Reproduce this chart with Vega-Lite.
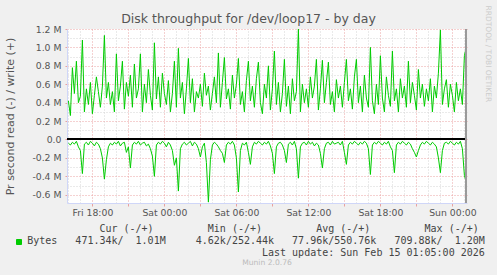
{
  "$schema": "https://vega.github.io/schema/vega-lite/v6.json",
  "width": 400,
  "height": 174,
  "autosize": {"type": "none"},
  "padding": {"left": 67, "top": 29, "right": 30, "bottom": 72},
  "background": "#f0f0f0",
  "config": {
    "view": {"stroke": null, "fill": "#ffffff"},
    "font": "DejaVu Sans"
  },
  "title": {
    "text": "Munin 2.0.76\u00a0\u00a0\u00a0\u00a0\u00a0\u00a0\u00a0\u00a0\u00a0\u00a0\u00a0\u00a0\u00a0\u00a0\u00a0\u00a0",
    "orient": "bottom",
    "anchor": "middle",
    "offset": 2,
    "fontSize": 7.6,
    "fontWeight": "normal",
    "color": "#bbbbbb"
  },
  "data": {
    "values": [
      {"t":"2026-02-13T16:00","w":0.42,"r":-0.04},{"t":"2026-02-13T16:10","w":0.26,"r":-0.06},{"t":"2026-02-13T16:20","w":0.78,"r":-0.03},{"t":"2026-02-13T16:30","w":0.50,"r":-0.05},{"t":"2026-02-13T16:40","w":0.85,"r":-0.02},{"t":"2026-02-13T16:50","w":0.40,"r":-0.08},
      {"t":"2026-02-13T17:00","w":0.47,"r":-0.12},{"t":"2026-02-13T17:10","w":1.08,"r":-0.37},{"t":"2026-02-13T17:20","w":0.30,"r":-0.05},{"t":"2026-02-13T17:30","w":0.55,"r":-0.03},{"t":"2026-02-13T17:40","w":0.38,"r":-0.06},{"t":"2026-02-13T17:50","w":0.62,"r":-0.02},
      {"t":"2026-02-13T18:00","w":0.28,"r":-0.04},{"t":"2026-02-13T18:10","w":0.48,"r":-0.07},{"t":"2026-02-13T18:20","w":0.68,"r":-0.03},{"t":"2026-02-13T18:30","w":0.52,"r":-0.05},{"t":"2026-02-13T18:40","w":0.35,"r":-0.10},{"t":"2026-02-13T18:50","w":0.58,"r":-0.20},
      {"t":"2026-02-13T19:00","w":1.13,"r":-0.43},{"t":"2026-02-13T19:10","w":0.45,"r":-0.22},{"t":"2026-02-13T19:20","w":0.62,"r":-0.08},{"t":"2026-02-13T19:30","w":0.38,"r":-0.04},{"t":"2026-02-13T19:40","w":0.52,"r":-0.06},{"t":"2026-02-13T19:50","w":0.30,"r":-0.03},
      {"t":"2026-02-13T20:00","w":0.93,"r":-0.05},{"t":"2026-02-13T20:10","w":0.42,"r":-0.02},{"t":"2026-02-13T20:20","w":0.58,"r":-0.07},{"t":"2026-02-13T20:30","w":0.85,"r":-0.04},{"t":"2026-02-13T20:40","w":0.33,"r":-0.03},{"t":"2026-02-13T20:50","w":0.62,"r":-0.14},
      {"t":"2026-02-13T21:00","w":0.47,"r":-0.08},{"t":"2026-02-13T21:10","w":0.70,"r":-0.31},{"t":"2026-02-13T21:20","w":0.35,"r":-0.06},{"t":"2026-02-13T21:30","w":0.82,"r":-0.03},{"t":"2026-02-13T21:40","w":0.45,"r":-0.05},{"t":"2026-02-13T21:50","w":0.55,"r":-0.02},
      {"t":"2026-02-13T22:00","w":0.93,"r":-0.06},{"t":"2026-02-13T22:10","w":0.30,"r":-0.04},{"t":"2026-02-13T22:20","w":0.60,"r":-0.03},{"t":"2026-02-13T22:30","w":0.40,"r":-0.07},{"t":"2026-02-13T22:40","w":0.76,"r":-0.05},{"t":"2026-02-13T22:50","w":0.48,"r":-0.10},
      {"t":"2026-02-13T23:00","w":0.32,"r":-0.18},{"t":"2026-02-13T23:10","w":1.05,"r":-0.40},{"t":"2026-02-13T23:20","w":0.44,"r":-0.06},{"t":"2026-02-13T23:30","w":0.68,"r":-0.03},{"t":"2026-02-13T23:40","w":0.35,"r":-0.05},{"t":"2026-02-13T23:50","w":0.72,"r":-0.02},
      {"t":"2026-02-14T00:00","w":0.50,"r":-0.04},{"t":"2026-02-14T00:10","w":0.38,"r":-0.08},{"t":"2026-02-14T00:20","w":0.64,"r":-0.03},{"t":"2026-02-14T00:30","w":0.30,"r":-0.06},{"t":"2026-02-14T00:40","w":0.50,"r":-0.12},{"t":"2026-02-14T00:50","w":0.85,"r":-0.28},
      {"t":"2026-02-14T01:00","w":0.35,"r":-0.20},{"t":"2026-02-14T01:10","w":0.99,"r":-0.56},{"t":"2026-02-14T01:20","w":0.45,"r":-0.10},{"t":"2026-02-14T01:30","w":0.62,"r":-0.05},{"t":"2026-02-14T01:40","w":0.28,"r":-0.03},{"t":"2026-02-14T01:50","w":0.55,"r":-0.06},
      {"t":"2026-02-14T02:00","w":0.88,"r":-0.04},{"t":"2026-02-14T02:10","w":0.40,"r":-0.02},{"t":"2026-02-14T02:20","w":0.66,"r":-0.07},{"t":"2026-02-14T02:30","w":0.30,"r":-0.03},{"t":"2026-02-14T02:40","w":0.52,"r":-0.05},{"t":"2026-02-14T02:50","w":0.45,"r":-0.10},
      {"t":"2026-02-14T03:00","w":0.60,"r":-0.19},{"t":"2026-02-14T03:10","w":0.36,"r":-0.08},{"t":"2026-02-14T03:20","w":0.72,"r":-0.04},{"t":"2026-02-14T03:30","w":0.48,"r":-0.25},{"t":"2026-02-14T03:40","w":0.58,"r":-0.68},{"t":"2026-02-14T03:50","w":0.32,"r":-0.22},
      {"t":"2026-02-14T04:00","w":0.50,"r":-0.06},{"t":"2026-02-14T04:10","w":0.68,"r":-0.03},{"t":"2026-02-14T04:20","w":0.40,"r":-0.05},{"t":"2026-02-14T04:30","w":0.94,"r":-0.08},{"t":"2026-02-14T04:40","w":0.35,"r":-0.12},{"t":"2026-02-14T04:50","w":0.62,"r":-0.15},
      {"t":"2026-02-14T05:00","w":0.89,"r":-0.25},{"t":"2026-02-14T05:10","w":0.44,"r":-0.06},{"t":"2026-02-14T05:20","w":0.55,"r":-0.03},{"t":"2026-02-14T05:30","w":0.33,"r":-0.05},{"t":"2026-02-14T05:40","w":0.70,"r":-0.02},{"t":"2026-02-14T05:50","w":0.45,"r":-0.06},
      {"t":"2026-02-14T06:00","w":0.60,"r":-0.20},{"t":"2026-02-14T06:10","w":0.88,"r":-0.57},{"t":"2026-02-14T06:20","w":0.38,"r":-0.12},{"t":"2026-02-14T06:30","w":0.52,"r":-0.04},{"t":"2026-02-14T06:40","w":0.30,"r":-0.06},{"t":"2026-02-14T06:50","w":0.64,"r":-0.03},
      {"t":"2026-02-14T07:00","w":0.85,"r":-0.14},{"t":"2026-02-14T07:10","w":0.42,"r":-0.27},{"t":"2026-02-14T07:20","w":0.58,"r":-0.08},{"t":"2026-02-14T07:30","w":0.35,"r":-0.03},{"t":"2026-02-14T07:40","w":0.66,"r":-0.05},{"t":"2026-02-14T07:50","w":0.84,"r":-0.02},
      {"t":"2026-02-14T08:00","w":0.40,"r":-0.04},{"t":"2026-02-14T08:10","w":0.28,"r":-0.06},{"t":"2026-02-14T08:20","w":0.60,"r":-0.03},{"t":"2026-02-14T08:30","w":0.45,"r":-0.05},{"t":"2026-02-14T08:40","w":0.80,"r":-0.02},{"t":"2026-02-14T08:50","w":0.32,"r":-0.07},
      {"t":"2026-02-14T09:00","w":0.55,"r":-0.15},{"t":"2026-02-14T09:10","w":0.96,"r":-0.37},{"t":"2026-02-14T09:20","w":0.38,"r":-0.08},{"t":"2026-02-14T09:30","w":0.62,"r":-0.04},{"t":"2026-02-14T09:40","w":0.30,"r":-0.03},{"t":"2026-02-14T09:50","w":0.50,"r":-0.06},
      {"t":"2026-02-14T10:00","w":0.87,"r":-0.12},{"t":"2026-02-14T10:10","w":0.36,"r":-0.25},{"t":"2026-02-14T10:20","w":0.58,"r":-0.05},{"t":"2026-02-14T10:30","w":0.28,"r":-0.03},{"t":"2026-02-14T10:40","w":0.66,"r":-0.06},{"t":"2026-02-14T10:50","w":0.42,"r":-0.02},
      {"t":"2026-02-14T11:00","w":0.52,"r":-0.10},{"t":"2026-02-14T11:10","w":1.20,"r":-0.42},{"t":"2026-02-14T11:20","w":0.30,"r":-0.08},{"t":"2026-02-14T11:30","w":0.60,"r":-0.04},{"t":"2026-02-14T11:40","w":0.40,"r":-0.03},{"t":"2026-02-14T11:50","w":0.55,"r":-0.06},
      {"t":"2026-02-14T12:00","w":0.35,"r":-0.02},{"t":"2026-02-14T12:10","w":0.68,"r":-0.05},{"t":"2026-02-14T12:20","w":0.45,"r":-0.03},{"t":"2026-02-14T12:30","w":0.58,"r":-0.07},{"t":"2026-02-14T12:40","w":0.87,"r":-0.04},{"t":"2026-02-14T12:50","w":0.32,"r":-0.06},
      {"t":"2026-02-14T13:00","w":0.55,"r":-0.15},{"t":"2026-02-14T13:10","w":0.86,"r":-0.31},{"t":"2026-02-14T13:20","w":0.40,"r":-0.10},{"t":"2026-02-14T13:30","w":0.62,"r":-0.04},{"t":"2026-02-14T13:40","w":0.84,"r":-0.03},{"t":"2026-02-14T13:50","w":0.38,"r":-0.06},
      {"t":"2026-02-14T14:00","w":0.52,"r":-0.02},{"t":"2026-02-14T14:10","w":0.30,"r":-0.05},{"t":"2026-02-14T14:20","w":0.65,"r":-0.04},{"t":"2026-02-14T14:30","w":0.45,"r":-0.03},{"t":"2026-02-14T14:40","w":0.58,"r":-0.06},{"t":"2026-02-14T14:50","w":0.35,"r":-0.02},
      {"t":"2026-02-14T15:00","w":0.62,"r":-0.14},{"t":"2026-02-14T15:10","w":0.87,"r":-0.27},{"t":"2026-02-14T15:20","w":0.42,"r":-0.06},{"t":"2026-02-14T15:30","w":0.55,"r":-0.03},{"t":"2026-02-14T15:40","w":0.33,"r":-0.05},{"t":"2026-02-14T15:50","w":0.68,"r":-0.02},
      {"t":"2026-02-14T16:00","w":0.87,"r":-0.04},{"t":"2026-02-14T16:10","w":0.40,"r":-0.06},{"t":"2026-02-14T16:20","w":0.58,"r":-0.03},{"t":"2026-02-14T16:30","w":0.30,"r":-0.05},{"t":"2026-02-14T16:40","w":0.70,"r":-0.02},{"t":"2026-02-14T16:50","w":0.45,"r":-0.04},
      {"t":"2026-02-14T17:00","w":0.35,"r":-0.10},{"t":"2026-02-14T17:10","w":1.00,"r":-0.38},{"t":"2026-02-14T17:20","w":0.42,"r":-0.06},{"t":"2026-02-14T17:30","w":0.28,"r":-0.03},{"t":"2026-02-14T17:40","w":0.60,"r":-0.05},{"t":"2026-02-14T17:50","w":0.38,"r":-0.02},
      {"t":"2026-02-14T18:00","w":0.91,"r":-0.04},{"t":"2026-02-14T18:10","w":0.45,"r":-0.06},{"t":"2026-02-14T18:20","w":0.30,"r":-0.03},{"t":"2026-02-14T18:30","w":0.68,"r":-0.05},{"t":"2026-02-14T18:40","w":0.48,"r":-0.02},{"t":"2026-02-14T18:50","w":0.36,"r":-0.08},
      {"t":"2026-02-14T19:00","w":0.96,"r":-0.12},{"t":"2026-02-14T19:10","w":0.42,"r":-0.36},{"t":"2026-02-14T19:20","w":0.55,"r":-0.06},{"t":"2026-02-14T19:30","w":0.30,"r":-0.03},{"t":"2026-02-14T19:40","w":0.66,"r":-0.05},{"t":"2026-02-14T19:50","w":0.45,"r":-0.02},
      {"t":"2026-02-14T20:00","w":0.58,"r":-0.04},{"t":"2026-02-14T20:10","w":0.35,"r":-0.06},{"t":"2026-02-14T20:20","w":0.85,"r":-0.03},{"t":"2026-02-14T20:30","w":0.40,"r":-0.05},{"t":"2026-02-14T20:40","w":0.62,"r":-0.10},{"t":"2026-02-14T20:50","w":0.48,"r":-0.14},
      {"t":"2026-02-14T21:00","w":0.32,"r":-0.19},{"t":"2026-02-14T21:10","w":0.76,"r":-0.12},{"t":"2026-02-14T21:20","w":0.45,"r":-0.06},{"t":"2026-02-14T21:30","w":0.60,"r":-0.03},{"t":"2026-02-14T21:40","w":0.36,"r":-0.05},{"t":"2026-02-14T21:50","w":0.55,"r":-0.02},
      {"t":"2026-02-14T22:00","w":0.42,"r":-0.04},{"t":"2026-02-14T22:10","w":0.66,"r":-0.06},{"t":"2026-02-14T22:20","w":0.30,"r":-0.03},{"t":"2026-02-14T22:30","w":0.58,"r":-0.05},{"t":"2026-02-14T22:40","w":0.45,"r":-0.08},{"t":"2026-02-14T22:50","w":0.72,"r":-0.20},
      {"t":"2026-02-14T23:00","w":1.19,"r":-0.36},{"t":"2026-02-14T23:10","w":0.38,"r":-0.12},{"t":"2026-02-14T23:20","w":0.55,"r":-0.04},{"t":"2026-02-14T23:30","w":0.65,"r":-0.03},{"t":"2026-02-14T23:40","w":0.35,"r":-0.05},{"t":"2026-02-14T23:50","w":0.60,"r":-0.02},
      {"t":"2026-02-15T00:00","w":0.48,"r":-0.04},{"t":"2026-02-15T00:10","w":0.30,"r":-0.06},{"t":"2026-02-15T00:20","w":0.62,"r":-0.03},{"t":"2026-02-15T00:30","w":0.42,"r":-0.05},{"t":"2026-02-15T00:40","w":0.55,"r":-0.02},{"t":"2026-02-15T00:50","w":0.38,"r":-0.10},
      {"t":"2026-02-15T01:00","w":0.91,"r":-0.39},{"t":"2026-02-15T01:10","w":1.01,"r":-0.47}
    ]
  },
  "resolve": {"axis": {"x": "independent", "y": "independent"}},
  "layer": [
    {
      "mark": {"type": "line", "strokeWidth": 1},
      "encoding": {
        "x": {
          "field": "t", "type": "temporal",
          "scale": {"domain": [{"year": 2026, "month": 2, "date": 13, "hours": 15, "minutes": 53}, {"year": 2026, "month": 2, "date": 15, "hours": 1, "minutes": 13}]},
          "axis": {
            "orient": "bottom",
            "values": [
              {"year": 2026, "month": 2, "date": 13, "hours": 18},
              {"year": 2026, "month": 2, "date": 13, "hours": 21},
              {"year": 2026, "month": 2, "date": 14, "hours": 0},
              {"year": 2026, "month": 2, "date": 14, "hours": 3},
              {"year": 2026, "month": 2, "date": 14, "hours": 6},
              {"year": 2026, "month": 2, "date": 14, "hours": 9},
              {"year": 2026, "month": 2, "date": 14, "hours": 12},
              {"year": 2026, "month": 2, "date": 14, "hours": 15},
              {"year": 2026, "month": 2, "date": 14, "hours": 18},
              {"year": 2026, "month": 2, "date": 14, "hours": 21},
              {"year": 2026, "month": 2, "date": 15, "hours": 0}
            ],
            "labelExpr": "hours(datum.value) % 6 == 0 ? timeFormat(datum.value, '%a %H:%M') : ''",
            "labelOverlap": false,
            "labelFontSize": 9.3,
            "labelColor": "#555555",
            "tickSize": 3,
            "tickColor": "#e9a0a0",
            "domainColor": "#cfd6f8",
            "grid": true,
            "gridColor": "#eba3a3",
            "gridDash": [1, 2],
            "title": [
              "\u200b\u00a0\u00a0\u00a0\u00a0\u00a0\u00a0\u00a0\u00a0\u00a0\u00a0\u00a0\u00a0Cur (-/+)\u00a0\u00a0\u00a0\u00a0\u00a0\u00a0\u00a0\u00a0\u00a0Min (-/+)\u00a0\u00a0\u00a0\u00a0\u00a0\u00a0\u00a0\u00a0\u00a0Avg (-/+)\u00a0\u00a0\u00a0\u00a0\u00a0\u00a0\u00a0\u00a0\u00a0Max (-/+)",
              "Bytes\u00a0\u00a0\u00a0471.34k/\u00a0\u00a01.01M\u00a0\u00a0\u00a0\u00a0\u00a04.62k/252.44k\u00a0\u00a0\u00a077.96k/550.76k\u00a0\u00a0\u00a0709.88k/\u00a0\u00a01.20M",
              "\u200b\u00a0\u00a0\u00a0\u00a0\u00a0\u00a0\u00a0\u00a0\u00a0\u00a0\u00a0\u00a0\u00a0\u00a0\u00a0\u00a0\u00a0\u00a0\u00a0\u00a0\u00a0\u00a0\u00a0\u00a0\u00a0\u00a0\u00a0\u00a0\u00a0\u00a0\u00a0\u00a0\u00a0\u00a0\u00a0\u00a0\u00a0\u00a0\u00a0Last update: Sun Feb 15 01:05:00 2026"
            ],
            "titleFont": "DejaVu Sans Mono",
            "titleFontSize": 10,
            "titleFontWeight": "normal",
            "titleColor": "#444444",
            "titleAlign": "left",
            "titleBaseline": "alphabetic",
            "titleLineHeight": 12,
            "titleX": -40.3,
            "titleY": 28
          }
        },
        "y": {
          "field": "w", "type": "quantitative",
          "scale": {"domain": [-0.6896, 1.2], "nice": false, "zero": false},
          "axis": {
            "orient": "left",
            "values": [-0.6, -0.4, -0.2, 0, 0.2, 0.4, 0.6, 0.8, 1.0, 1.2],
            "labelExpr": "abs(datum.value) < 0.001 ? '0.0' : (datum.value < 0 ? '-' : '') + format(abs(datum.value), '.1f') + ' M'",
            "labelOverlap": false,
            "labelFontSize": 9.3,
            "labelColor": "#555555",
            "labelPadding": 4,
            "tickSize": 2,
            "tickColor": "#e9a0a0",
            "domainColor": "#cfd6f8",
            "grid": true,
            "gridColor": "#eba3a3",
            "gridDash": [1, 2],
            "title": "Pr second read (-) / write (+)",
            "titleFontSize": 11,
            "titleFontWeight": "normal",
            "titleColor": "#555555",
            "titleAngle": 270,
            "titleAlign": "center",
            "titleBaseline": "middle",
            "titleX": -57,
            "titleY": 87
          }
        },
        "color": {
          "datum": "Bytes",
          "scale": {"domain": ["Bytes"], "range": ["#00cc00"]},
          "legend": {
            "orient": "none",
            "legendX": -53,
            "legendY": 208,
            "title": null,
            "padding": 0,
            "symbolType": "square",
            "symbolSize": 25,
            "symbolFillColor": "#00cc00",
            "symbolStrokeColor": "#00cc00",
            "symbolStrokeWidth": 1,
            "labelExpr": "''"
          }
        }
      }
    },
    {
      "mark": {"type": "line", "strokeWidth": 1},
      "encoding": {
        "x": {
          "field": "t", "type": "temporal",
          "axis": {
            "orient": "top",
            "values": [
              {"year": 2026, "month": 2, "date": 13, "hours": 16},
              {"year": 2026, "month": 2, "date": 13, "hours": 17},
              {"year": 2026, "month": 2, "date": 13, "hours": 19},
              {"year": 2026, "month": 2, "date": 13, "hours": 20},
              {"year": 2026, "month": 2, "date": 13, "hours": 22},
              {"year": 2026, "month": 2, "date": 13, "hours": 23},
              {"year": 2026, "month": 2, "date": 14, "hours": 1},
              {"year": 2026, "month": 2, "date": 14, "hours": 2},
              {"year": 2026, "month": 2, "date": 14, "hours": 4},
              {"year": 2026, "month": 2, "date": 14, "hours": 5},
              {"year": 2026, "month": 2, "date": 14, "hours": 7},
              {"year": 2026, "month": 2, "date": 14, "hours": 8},
              {"year": 2026, "month": 2, "date": 14, "hours": 10},
              {"year": 2026, "month": 2, "date": 14, "hours": 11},
              {"year": 2026, "month": 2, "date": 14, "hours": 13},
              {"year": 2026, "month": 2, "date": 14, "hours": 14},
              {"year": 2026, "month": 2, "date": 14, "hours": 16},
              {"year": 2026, "month": 2, "date": 14, "hours": 17},
              {"year": 2026, "month": 2, "date": 14, "hours": 19},
              {"year": 2026, "month": 2, "date": 14, "hours": 20},
              {"year": 2026, "month": 2, "date": 14, "hours": 22},
              {"year": 2026, "month": 2, "date": 14, "hours": 23},
              {"year": 2026, "month": 2, "date": 15, "hours": 1}
            ],
            "domain": false, "ticks": false, "labels": false,
            "grid": true,
            "gridColor": "#d4d4d4",
            "gridDash": [1, 2],
            "title": "Disk throughput for /dev/loop17 - by day",
            "titleFontSize": 12.5,
            "titleFontWeight": "normal",
            "titleColor": "#555555",
            "titleAlign": "center",
            "titleBaseline": "alphabetic",
            "titleX": 181,
            "titleY": -7
          }
        },
        "y": {
          "field": "r", "type": "quantitative",
          "axis": {
            "orient": "right",
            "values": [-0.5, -0.3, -0.1, 0.1, 0.3, 0.5, 0.7, 0.9, 1.1],
            "domain": false, "ticks": false, "labels": false,
            "grid": true,
            "gridColor": "#d4d4d4",
            "gridDash": [1, 2],
            "title": "RRDTOOL / TOBI OETIKER",
            "titleFontSize": 7.5,
            "titleFontWeight": "normal",
            "titleColor": "#cccccc",
            "titleAngle": 90,
            "titleAlign": "left",
            "titleBaseline": "middle",
            "titleX": 20.7,
            "titleY": -24
          }
        },
        "color": {"datum": "Bytes"}
      }
    },
    {
      "mark": {"type": "rule", "color": "#000000", "strokeWidth": 1},
      "encoding": {"y": {"datum": 0, "type": "quantitative", "axis": null}}
    },
    {
      "mark": {"type": "rule", "color": "#999999", "strokeWidth": 1},
      "encoding": {"x": {"datum": {"year": 2026, "month": 2, "date": 15, "hours": 1, "minutes": 8}, "type": "temporal", "axis": null}}
    }
  ]
}
